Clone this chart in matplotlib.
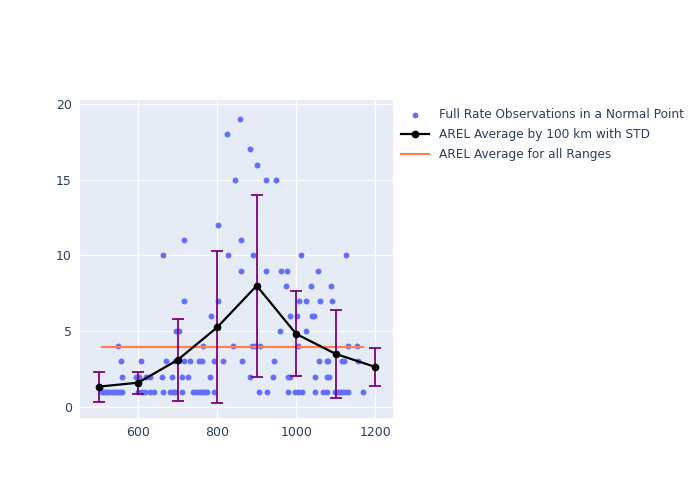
import matplotlib.pyplot as plt

# observations: range (km) for each integer value
obs_levels = [1, 2, 3, 4, 5, 6, 7, 8, 9, 10, 11, 12, 15, 16, 17, 18, 19]
obs_ranges = [
    [508, 512, 517, 522, 527, 533, 538, 543, 548, 553, 559,
     601, 609, 618, 630, 639, 664, 681, 689, 694, 711, 739, 745, 752,
     758, 764, 770, 775, 793, 905, 926, 980, 997, 1005, 1014, 1048,
     1068, 1078, 1099, 1106, 1111, 1116, 1124, 1132, 1170],
    [560, 594, 603, 619, 630, 660, 685, 711, 727, 782, 882, 941, 980,
     985, 1048, 1079, 1083],
    [557, 607, 671, 694, 702, 715, 732, 754, 761, 791, 816, 862, 944,
     1059, 1078, 1080, 1116, 1120, 1156],
    [549, 763, 839, 888, 896, 909, 1004, 1132, 1154],
    [695, 704, 959, 1025],
    [785, 985, 1002, 1040, 1044],
    [715, 802, 1008, 1025, 1061, 1090],
    [975, 1037, 1089],
    [860, 923, 961, 976, 1055],
    [662, 827, 890, 1012, 1126],
    [716, 861],
    [802],
    [845, 923, 949],
    [900],
    [882],
    [824],
    [858],
]
obs_x = []
obs_y = []
for lvl, rs in zip(obs_levels, obs_ranges):
    obs_x += rs
    obs_y += [lvl] * len(rs)

avg_x = [500, 600, 700, 800, 900, 1000, 1100, 1200]
avg_y = [1.34, 1.60, 3.10, 5.25, 8.0, 4.82, 3.50, 2.64]
avg_std = [0.99, 0.72, 2.68, 5.02, 6.0, 2.8, 2.9, 1.24]

overall_avg = 3.95

fig = plt.figure(figsize=(7, 5), dpi=100)
ax = fig.add_axes([80/700, 82/500, 313/700, 318/500])
ax.set_facecolor('#E5ECF6')
ax.grid(True, color='white', linewidth=1)
ax.set_axisbelow(True)
for s in ax.spines.values():
    s.set_visible(False)

h1 = ax.scatter(obs_x, obs_y, s=18, color='#636EFA', zorder=2, lw=0,
                label='Full Rate Observations in a Normal Point')
ax.errorbar(avg_x, avg_y, yerr=avg_std, fmt='none', ecolor='purple',
            elinewidth=1.3, capsize=4, capthick=1.3, zorder=4)
h2, = ax.plot(avg_x, avg_y, color='black', marker='o', ms=4.5, lw=1.6,
              zorder=5, label='AREL Average by 100 km with STD')
h3, = ax.plot([min(obs_x), max(obs_x)], [overall_avg, overall_avg],
              color='#FF7F50', lw=1.6, zorder=3,
              label='AREL Average for all Ranges')

ax.set_xlim(453, 1245)
ax.set_ylim(-0.73, 20.26)
ax.set_xticks([600, 800, 1000, 1200])
ax.set_yticks([0, 5, 10, 15, 20])
ax.tick_params(length=0, labelsize=9, labelcolor='#2a3f5f', pad=6)

ax.legend(handles=[h1, h2, h3], loc='upper left', bbox_to_anchor=(1.0, 1.0),
          frameon=False, fontsize=8.7, labelcolor='#2a3f5f', handlelength=2.3,
          borderaxespad=0.3, labelspacing=0.55)

fig.savefig('out.png')
